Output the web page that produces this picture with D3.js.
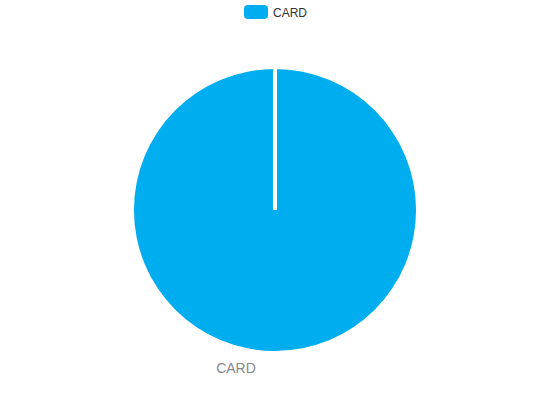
<!DOCTYPE html>
<html>
<head>
<meta charset="utf-8">
<script src="https://cdn.jsdelivr.net/npm/d3@7"></script>
<style>
  body { margin: 0; background: #fff; }
  svg { display: block; font-family: "Helvetica Neue", Helvetica, Arial, "Liberation Sans", sans-serif; }
</style>
</head>
<body>
<svg id="chart" width="550" height="420"></svg>
<script>
var categories = ["CARD"]
var values = [100]
var colors = ["#00ADEE"]

var svg = d3.select("#chart")
var width = 550, height = 420
var cx = 275, cy = 210, radius = 141

// legend
var legend = svg.append("g").attr("transform", "translate(244,5)")
legend.append("rect")
  .attr("width", 24).attr("height", 14)
  .attr("rx", 4).attr("ry", 4)
  .attr("fill", colors[0])
legend.append("text")
  .attr("x", 29).attr("y", 11.5)
  .attr("font-size", 12)
  .attr("fill", "#333")
  .text(categories[0])

var pie = d3.pie().sort(null).value(d => d)
var arc = d3.arc().innerRadius(0).outerRadius(radius)

var g = svg.append("g").attr("transform", "translate(" + cx + "," + cy + ")")

var arcs = pie(values)

g.selectAll("path")
  .data(arcs)
  .enter().append("path")
  .attr("d", arc)
  .attr("fill", (d, i) => colors[i])

// slice border (white line at start angle)
g.selectAll("line.border")
  .data(arcs)
  .enter().append("line")
  .attr("class", "border")
  .attr("x1", 0).attr("y1", 0)
  .attr("x2", d => Math.sin(d.startAngle) * (radius + 1))
  .attr("y2", d => -Math.cos(d.startAngle) * (radius + 1))
  .attr("stroke", "#fff")
  .attr("stroke-width", 4)

// outside label
var labelArc = d3.arc().innerRadius(radius + 18).outerRadius(radius + 18)
g.selectAll("text.label")
  .data(arcs)
  .enter().append("text")
  .attr("class", "label")
  .attr("x", -39)
  .attr("y", 163)
  .attr("text-anchor", "middle")
  .attr("font-size", 14)
  .attr("fill", "#888")
  .text((d, i) => categories[i])
</script>
</body>
</html>
